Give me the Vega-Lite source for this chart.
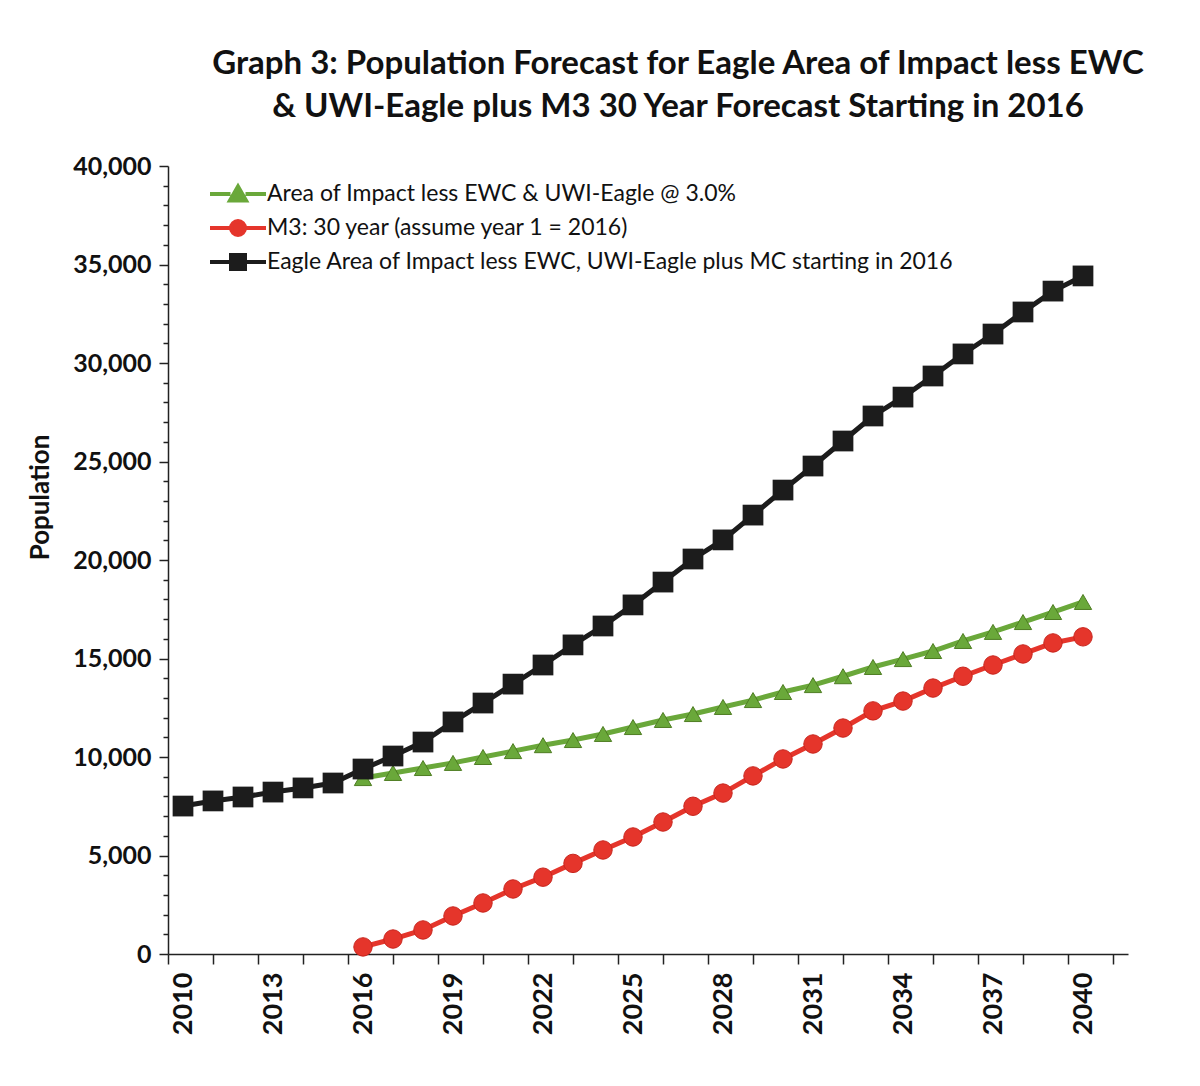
{
  "$schema": "https://vega.github.io/schema/vega-lite/v6.json",
  "autosize": {"type": "none"},
  "width": 960,
  "height": 788,
  "padding": {"left": 168, "top": 166, "right": 72, "bottom": 132},
  "background": "white",
  "config": {
    "view": {"stroke": null},
    "font": "Lato"
  },
  "title": {
    "text": ["Graph 3: Population Forecast for Eagle Area of Impact less EWC", "& UWI-Eagle plus M3 30 Year Forecast Starting in 2016"],
    "font": "Lato",
    "fontSize": 33,
    "fontWeight": "bold",
    "color": "#111111",
    "anchor": "middle",
    "frame": "group",
    "dx": 30,
    "lineHeight": 43,
    "offset": 30
  },
  "data": {
    "values": [
      {"year": 2016, "series": "Area of Impact less EWC & UWI-Eagle @ 3.0%", "value": 8930},
      {"year": 2017, "series": "Area of Impact less EWC & UWI-Eagle @ 3.0%", "value": 9190},
      {"year": 2018, "series": "Area of Impact less EWC & UWI-Eagle @ 3.0%", "value": 9440},
      {"year": 2019, "series": "Area of Impact less EWC & UWI-Eagle @ 3.0%", "value": 9700},
      {"year": 2020, "series": "Area of Impact less EWC & UWI-Eagle @ 3.0%", "value": 10000},
      {"year": 2021, "series": "Area of Impact less EWC & UWI-Eagle @ 3.0%", "value": 10300},
      {"year": 2022, "series": "Area of Impact less EWC & UWI-Eagle @ 3.0%", "value": 10600},
      {"year": 2023, "series": "Area of Impact less EWC & UWI-Eagle @ 3.0%", "value": 10860},
      {"year": 2024, "series": "Area of Impact less EWC & UWI-Eagle @ 3.0%", "value": 11170},
      {"year": 2025, "series": "Area of Impact less EWC & UWI-Eagle @ 3.0%", "value": 11520},
      {"year": 2026, "series": "Area of Impact less EWC & UWI-Eagle @ 3.0%", "value": 11880},
      {"year": 2027, "series": "Area of Impact less EWC & UWI-Eagle @ 3.0%", "value": 12180},
      {"year": 2028, "series": "Area of Impact less EWC & UWI-Eagle @ 3.0%", "value": 12540},
      {"year": 2029, "series": "Area of Impact less EWC & UWI-Eagle @ 3.0%", "value": 12890},
      {"year": 2030, "series": "Area of Impact less EWC & UWI-Eagle @ 3.0%", "value": 13300},
      {"year": 2031, "series": "Area of Impact less EWC & UWI-Eagle @ 3.0%", "value": 13650},
      {"year": 2032, "series": "Area of Impact less EWC & UWI-Eagle @ 3.0%", "value": 14100},
      {"year": 2033, "series": "Area of Impact less EWC & UWI-Eagle @ 3.0%", "value": 14570},
      {"year": 2034, "series": "Area of Impact less EWC & UWI-Eagle @ 3.0%", "value": 14970},
      {"year": 2035, "series": "Area of Impact less EWC & UWI-Eagle @ 3.0%", "value": 15380},
      {"year": 2036, "series": "Area of Impact less EWC & UWI-Eagle @ 3.0%", "value": 15890},
      {"year": 2037, "series": "Area of Impact less EWC & UWI-Eagle @ 3.0%", "value": 16350},
      {"year": 2038, "series": "Area of Impact less EWC & UWI-Eagle @ 3.0%", "value": 16850},
      {"year": 2039, "series": "Area of Impact less EWC & UWI-Eagle @ 3.0%", "value": 17360},
      {"year": 2040, "series": "Area of Impact less EWC & UWI-Eagle @ 3.0%", "value": 17870},
      {"year": 2016, "series": "M3: 30 year (assume year 1 = 2016)", "value": 360},
      {"year": 2017, "series": "M3: 30 year (assume year 1 = 2016)", "value": 760},
      {"year": 2018, "series": "M3: 30 year (assume year 1 = 2016)", "value": 1220},
      {"year": 2019, "series": "M3: 30 year (assume year 1 = 2016)", "value": 1930},
      {"year": 2020, "series": "M3: 30 year (assume year 1 = 2016)", "value": 2590},
      {"year": 2021, "series": "M3: 30 year (assume year 1 = 2016)", "value": 3300},
      {"year": 2022, "series": "M3: 30 year (assume year 1 = 2016)", "value": 3900},
      {"year": 2023, "series": "M3: 30 year (assume year 1 = 2016)", "value": 4600},
      {"year": 2024, "series": "M3: 30 year (assume year 1 = 2016)", "value": 5280},
      {"year": 2025, "series": "M3: 30 year (assume year 1 = 2016)", "value": 5940},
      {"year": 2026, "series": "M3: 30 year (assume year 1 = 2016)", "value": 6700},
      {"year": 2027, "series": "M3: 30 year (assume year 1 = 2016)", "value": 7500},
      {"year": 2028, "series": "M3: 30 year (assume year 1 = 2016)", "value": 8170},
      {"year": 2029, "series": "M3: 30 year (assume year 1 = 2016)", "value": 9040},
      {"year": 2030, "series": "M3: 30 year (assume year 1 = 2016)", "value": 9900},
      {"year": 2031, "series": "M3: 30 year (assume year 1 = 2016)", "value": 10660},
      {"year": 2032, "series": "M3: 30 year (assume year 1 = 2016)", "value": 11470},
      {"year": 2033, "series": "M3: 30 year (assume year 1 = 2016)", "value": 12340},
      {"year": 2034, "series": "M3: 30 year (assume year 1 = 2016)", "value": 12840},
      {"year": 2035, "series": "M3: 30 year (assume year 1 = 2016)", "value": 13500},
      {"year": 2036, "series": "M3: 30 year (assume year 1 = 2016)", "value": 14100},
      {"year": 2037, "series": "M3: 30 year (assume year 1 = 2016)", "value": 14670},
      {"year": 2038, "series": "M3: 30 year (assume year 1 = 2016)", "value": 15230},
      {"year": 2039, "series": "M3: 30 year (assume year 1 = 2016)", "value": 15790},
      {"year": 2040, "series": "M3: 30 year (assume year 1 = 2016)", "value": 16100},
      {"year": 2010, "series": "Eagle Area of Impact less EWC, UWI-Eagle plus MC starting in 2016", "value": 7510},
      {"year": 2011, "series": "Eagle Area of Impact less EWC, UWI-Eagle plus MC starting in 2016", "value": 7770},
      {"year": 2012, "series": "Eagle Area of Impact less EWC, UWI-Eagle plus MC starting in 2016", "value": 7970},
      {"year": 2013, "series": "Eagle Area of Impact less EWC, UWI-Eagle plus MC starting in 2016", "value": 8220},
      {"year": 2014, "series": "Eagle Area of Impact less EWC, UWI-Eagle plus MC starting in 2016", "value": 8430},
      {"year": 2015, "series": "Eagle Area of Impact less EWC, UWI-Eagle plus MC starting in 2016", "value": 8680},
      {"year": 2016, "series": "Eagle Area of Impact less EWC, UWI-Eagle plus MC starting in 2016", "value": 9390},
      {"year": 2017, "series": "Eagle Area of Impact less EWC, UWI-Eagle plus MC starting in 2016", "value": 10050},
      {"year": 2018, "series": "Eagle Area of Impact less EWC, UWI-Eagle plus MC starting in 2016", "value": 10760},
      {"year": 2019, "series": "Eagle Area of Impact less EWC, UWI-Eagle plus MC starting in 2016", "value": 11780},
      {"year": 2020, "series": "Eagle Area of Impact less EWC, UWI-Eagle plus MC starting in 2016", "value": 12740},
      {"year": 2021, "series": "Eagle Area of Impact less EWC, UWI-Eagle plus MC starting in 2016", "value": 13700},
      {"year": 2022, "series": "Eagle Area of Impact less EWC, UWI-Eagle plus MC starting in 2016", "value": 14670},
      {"year": 2023, "series": "Eagle Area of Impact less EWC, UWI-Eagle plus MC starting in 2016", "value": 15690},
      {"year": 2024, "series": "Eagle Area of Impact less EWC, UWI-Eagle plus MC starting in 2016", "value": 16650},
      {"year": 2025, "series": "Eagle Area of Impact less EWC, UWI-Eagle plus MC starting in 2016", "value": 17720},
      {"year": 2026, "series": "Eagle Area of Impact less EWC, UWI-Eagle plus MC starting in 2016", "value": 18880},
      {"year": 2027, "series": "Eagle Area of Impact less EWC, UWI-Eagle plus MC starting in 2016", "value": 20050},
      {"year": 2028, "series": "Eagle Area of Impact less EWC, UWI-Eagle plus MC starting in 2016", "value": 21020},
      {"year": 2029, "series": "Eagle Area of Impact less EWC, UWI-Eagle plus MC starting in 2016", "value": 22280},
      {"year": 2030, "series": "Eagle Area of Impact less EWC, UWI-Eagle plus MC starting in 2016", "value": 23550},
      {"year": 2031, "series": "Eagle Area of Impact less EWC, UWI-Eagle plus MC starting in 2016", "value": 24770},
      {"year": 2032, "series": "Eagle Area of Impact less EWC, UWI-Eagle plus MC starting in 2016", "value": 26040},
      {"year": 2033, "series": "Eagle Area of Impact less EWC, UWI-Eagle plus MC starting in 2016", "value": 27310},
      {"year": 2034, "series": "Eagle Area of Impact less EWC, UWI-Eagle plus MC starting in 2016", "value": 28270},
      {"year": 2035, "series": "Eagle Area of Impact less EWC, UWI-Eagle plus MC starting in 2016", "value": 29340},
      {"year": 2036, "series": "Eagle Area of Impact less EWC, UWI-Eagle plus MC starting in 2016", "value": 30460},
      {"year": 2037, "series": "Eagle Area of Impact less EWC, UWI-Eagle plus MC starting in 2016", "value": 31470},
      {"year": 2038, "series": "Eagle Area of Impact less EWC, UWI-Eagle plus MC starting in 2016", "value": 32590},
      {"year": 2039, "series": "Eagle Area of Impact less EWC, UWI-Eagle plus MC starting in 2016", "value": 33650},
      {"year": 2040, "series": "Eagle Area of Impact less EWC, UWI-Eagle plus MC starting in 2016", "value": 34420}
    ]
  },
  "encoding": {
    "x": {
      "field": "year",
      "type": "quantitative",
      "scale": {"domain": [2009.5, 2041.5], "nice": false, "zero": false},
      "axis": {
        "title": null,
        "grid": false,
        "values": [2009.5, 2010, 2011, 2012.5, 2013, 2014, 2015.5, 2016, 2017, 2018.5, 2019, 2020, 2021.5, 2022, 2023, 2024.5, 2025, 2026, 2027.5, 2028, 2029, 2030.5, 2031, 2032, 2033.5, 2034, 2035, 2036.5, 2037, 2038, 2039.5, 2040, 2041],
        "labelExpr": "datum.value % 3 == 0 ? '' + datum.value : ''",
        "labelAngle": -90,
        "labelAlign": "right",
        "labelBaseline": "middle",
        "labelFont": "Lato",
        "labelFontSize": 27,
        "labelFontWeight": "bold",
        "labelColor": "#111111",
        "labelOverlap": false,
        "labelFlush": false,
        "labelPadding": 8,
        "tickSize": 10,
        "tickColor": "#222222",
        "tickWidth": 1.5,
        "tickOpacity": {"condition": {"test": "datum.value % 3 == 0", "value": 0}, "value": 1},
        "domainColor": "#222222",
        "domainWidth": 1.5
      }
    },
    "y": {
      "field": "value",
      "type": "quantitative",
      "scale": {"domain": [0, 40000], "nice": false},
      "axis": {
        "title": "Population",
        "titleFont": "Lato",
        "titleFontSize": 26,
        "titleFontWeight": "bold",
        "titleColor": "#111111",
        "titleX": -128,
        "titleY": 331,
        "titleAlign": "center",
        "titleBaseline": "middle",
        "grid": false,
        "values": [0, 1000, 2000, 3000, 4000, 5000, 6000, 7000, 8000, 9000, 10000, 11000, 12000, 13000, 14000, 15000, 16000, 17000, 18000, 19000, 20000, 21000, 22000, 23000, 24000, 25000, 26000, 27000, 28000, 29000, 30000, 31000, 32000, 33000, 34000, 35000, 36000, 37000, 38000, 39000, 40000],
        "labelExpr": "datum.value % 5000 == 0 ? format(datum.value, ',') : ''",
        "labelFont": "Lato",
        "labelFontSize": 25,
        "labelFontWeight": "bold",
        "labelColor": "#111111",
        "labelOverlap": false,
        "labelFlush": false,
        "labelPadding": 8,
        "tickSize": {"condition": {"test": "datum.value % 5000 == 0", "value": 9}, "value": 5},
        "tickColor": "#222222",
        "tickWidth": 1.5,
        "domainColor": "#222222",
        "domainWidth": 1.5
      }
    },
    "color": {
      "field": "series",
      "type": "nominal",
      "sort": null,
      "scale": {
        "domain": ["Area of Impact less EWC & UWI-Eagle @ 3.0%", "M3: 30 year (assume year 1 = 2016)", "Eagle Area of Impact less EWC, UWI-Eagle plus MC starting in 2016"],
        "range": ["#6aa83a", "#e5352b", "#1c1c1c"]
      },
      "legend": {
        "title": null,
        "orient": "none",
        "legendX": 58,
        "legendY": 16,
        "padding": 0,
        "symbolSize": 400,
        "symbolStrokeWidth": 4,
        "symbolOpacity": 1,
        "labelFont": "Lato",
        "labelFontSize": 23,
        "labelColor": "#111111",
        "labelOffset": 17,
        "labelLimit": 900,
        "rowPadding": 4,
        "encode": {
          "symbols": {
            "update": {
              "shape": {"signal": "datum.value == 'Area of Impact less EWC & UWI-Eagle @ 3.0%' ? 'M-2.8,0H-0.75M0.75,0H2.8M-0.8,0.65L0,-0.75L0.8,0.65Z' : (datum.value == 'M3: 30 year (assume year 1 = 2016)' ? 'M-2.8,0H-0.7M0.7,0H2.8M0.7,0A0.7,0.7,0,1,1,-0.7,0A0.7,0.7,0,1,1,0.7,0Z' : 'M-2.8,0H-0.7M0.7,0H2.8M-0.7,-0.7H0.7V0.7H-0.7Z')"},
              "stroke": {"signal": "scale('color', datum.value)"},
              "fill": {"signal": "scale('color', datum.value)"},
              "strokeWidth": {"value": 4},
              "size": {"value": 400},
              "opacity": {"value": 1}
            }
          }
        }
      }
    }
  },
  "layer": [
    {
      "mark": {"type": "line", "strokeWidth": 5}
    },
    {
      "transform": [{"filter": "datum.series == 'Area of Impact less EWC & UWI-Eagle @ 3.0%'"}],
      "mark": {"type": "point", "shape": "triangle-up", "filled": true, "opacity": 1, "size": 300, "stroke": "#4e7d22", "strokeWidth": 1}
    },
    {
      "transform": [{"filter": "datum.series == 'M3: 30 year (assume year 1 = 2016)'"}],
      "mark": {"type": "point", "shape": "circle", "filled": true, "opacity": 1, "size": 340, "stroke": "#c8261e", "strokeWidth": 1}
    },
    {
      "transform": [{"filter": "datum.series == 'Eagle Area of Impact less EWC, UWI-Eagle plus MC starting in 2016'"}],
      "mark": {"type": "point", "shape": "square", "filled": true, "opacity": 1, "size": 430}
    }
  ]
}
